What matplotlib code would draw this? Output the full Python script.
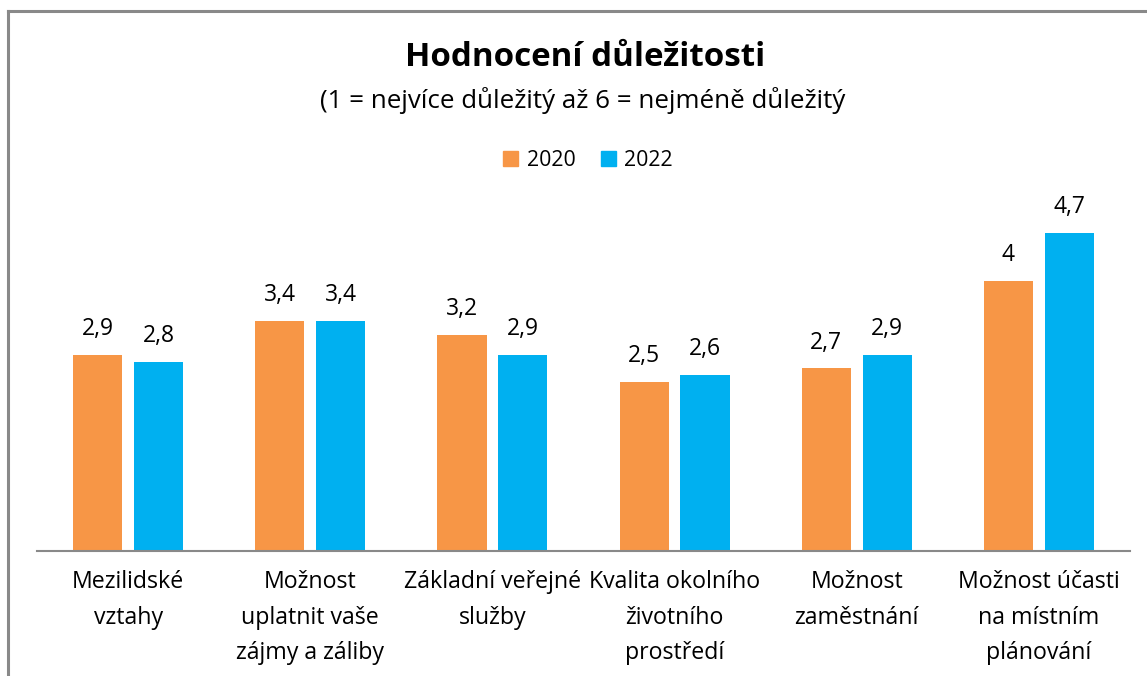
import matplotlib
matplotlib.use("Agg")
import matplotlib.pyplot as plt
import numpy as np
from matplotlib.patches import Rectangle
from matplotlib.lines import Line2D

categories = ["Mezilidské\nvztahy", "Možnost\nuplatnit vaše\nzájmy a záliby",
              "Základní veřejné\nslužby", "Kvalita okolního\nživotního\nprostředí",
              "Možnost\nzaměstnání", "Možnost účasti\nna místním\nplánování"]
values_2020 = [2.9, 3.4, 3.2, 2.5, 2.7, 4.0]
values_2022 = [2.8, 3.4, 2.9, 2.6, 2.9, 4.7]
series_names = ["2020", "2022"]
colors = ["#F79646", "#00B0F0"]

plt.rcParams['font.family'] = ['Open Sans', 'DejaVu Sans']

W, H = 1147, 676
fig = plt.figure(figsize=(W/100, H/100), dpi=100)

# outer border
fig.add_artist(Line2D([8/W, 8/W], [0, 1-11/H], color="#898989", lw=2.2, transform=fig.transFigure))
fig.add_artist(Line2D([8/W, 1], [1-11/H, 1-11/H], color="#898989", lw=2.2, transform=fig.transFigure))

ymax = 5.2
px_per_unit = 67.6
ax_bottom = 551
ax_top = ax_bottom - ymax*px_per_unit
ax = fig.add_axes([37/W, (H-ax_bottom)/H, (1130-37)/W, (ax_bottom-ax_top)/H])
ax.set_ylim(0, ymax)
x = np.arange(len(categories))
ax.set_xlim(-0.5, len(categories)-0.5)
bw = 0.27
off = 0.167

def fmt(v):
    return ("%g" % v).replace(".", ",")

for vals, o, c in [(values_2020, -off, colors[0]), (values_2022, off, colors[1])]:
    bars = ax.bar(x + o, vals, width=bw, color=c, zorder=2)
    for b, v in zip(bars, vals):
        ax.annotate(fmt(v), (b.get_x()+b.get_width()/2, v), xytext=(0, 10),
                    textcoords="offset points", ha="center", va="bottom", fontsize=16.5, color="#000000")

for s in ["top", "left", "right"]:
    ax.spines[s].set_visible(False)
ax.spines["bottom"].set_color("#898989")
ax.spines["bottom"].set_linewidth(1.5)
ax.set_yticks([])
ax.set_xticks(x)
ax.set_xticklabels(categories, fontsize=16.7, linespacing=1.62)
ax.tick_params(axis="x", length=0, pad=14)

fig.text(585/W, 1-57/H, "Hodnocení důležitosti", ha="center", va="center", fontsize=23.9, fontweight="bold")
fig.text(583/W, 1-100/H, "(1 = nejvíce důležitý až 6 = nejméně důležitý", ha="center", va="center", fontsize=18.6)

handles = [Rectangle((0, 0), 1, 1, color=c) for c in colors]
fig.legend(handles, series_names, loc="center", bbox_to_anchor=(588/W, 1-160/H), ncol=2, frameon=False,
           fontsize=15.3, handlelength=0.7, handleheight=0.7, handletextpad=0.4, columnspacing=1.2)

fig.savefig("out.png", dpi=100)
